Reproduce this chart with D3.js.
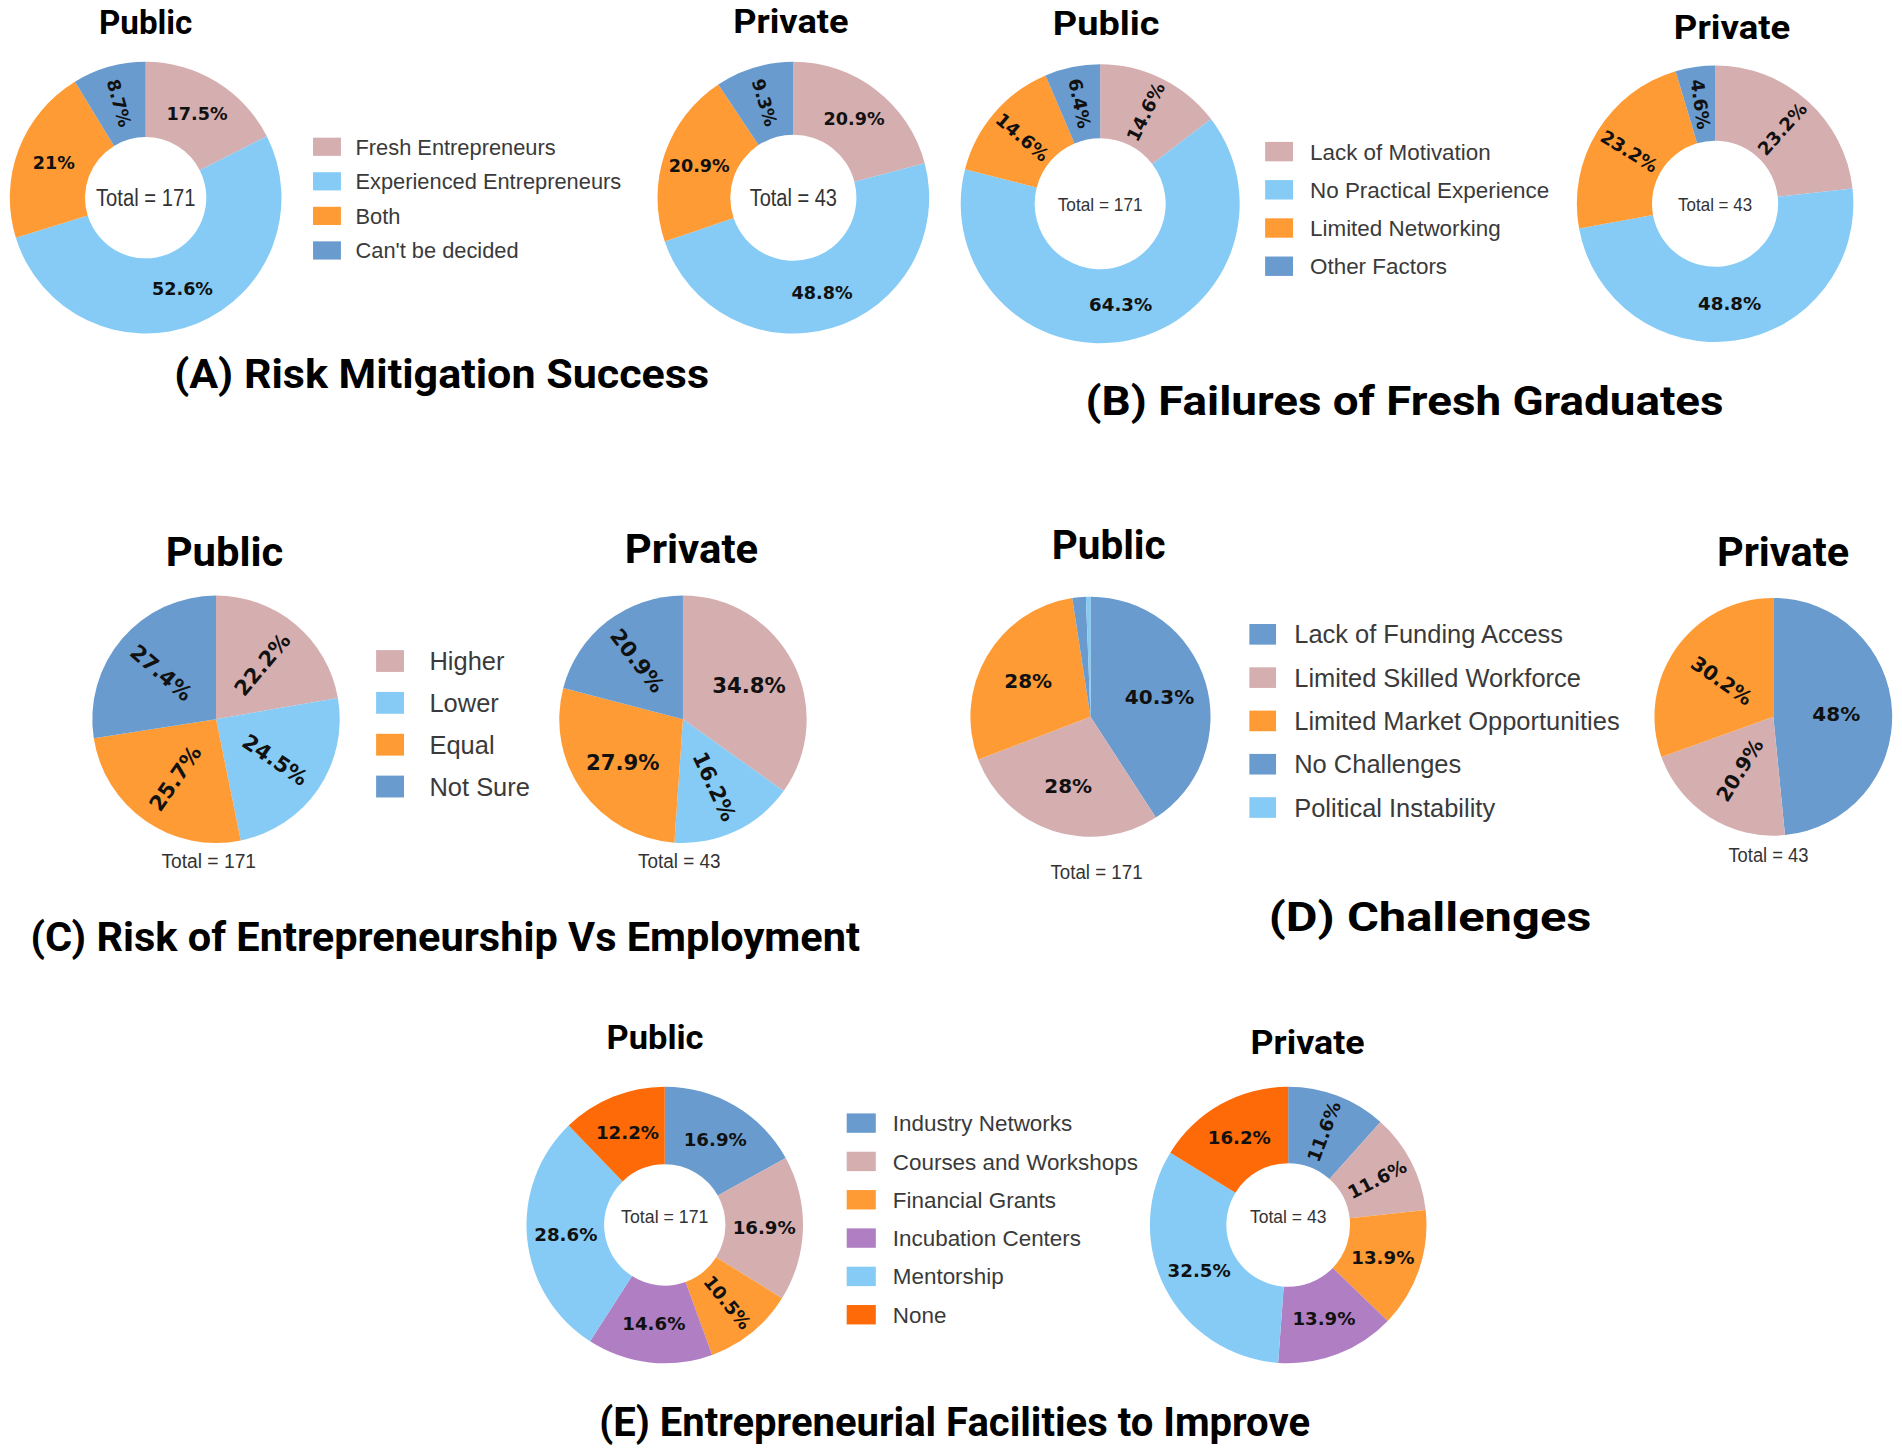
<!DOCTYPE html>
<html>
<head>
<meta charset="utf-8">
<title>Entrepreneurship survey - Public vs Private</title>
<script src="https://d3js.org/d3.v7.min.js"></script>
<style>
    body { margin: 0; background: #fff; }
    svg { display: block; }
</style>
</head>
<body>
<div id="chart"></div>
<script>
// survey answers, in percent of respondents
var groupNames = ["Public", "Private"];
var groupTotals = [171, 43];

var riskCategories = ["Fresh Entrepreneurs", "Experienced Entrepreneurs", "Both", "Can't be decided"];
var riskPublic = [17.5, 52.6, 21, 8.7];
var riskPrivate = [20.9, 48.8, 20.9, 9.3];

var failureCategories = ["Lack of Motivation", "No Practical Experience", "Limited Networking", "Other Factors"];
var failurePublic = [14.6, 64.3, 14.6, 6.4];
var failurePrivate = [23.2, 48.8, 23.2, 4.6];

var employmentCategories = ["Higher", "Lower", "Equal", "Not Sure"];
var employmentPublic = [22.2, 24.5, 25.7, 27.4];
var employmentPrivate = [34.8, 16.2, 27.9, 20.9];

var challengeCategories = ["Lack of Funding Access", "Limited Skilled Workforce", "Limited Market Opportunities", "No Challenges", "Political Instability"];
var challengePublic = [40.3, 28, 28, 1.8, 0.6];
var challengePrivate = [48, 20.9, 30.2, 0, 0];

var facilityCategories = ["Industry Networks", "Courses and Workshops", "Financial Grants", "Incubation Centers", "Mentorship", "None"];
var facilityPublic = [16.9, 16.9, 10.5, 14.6, 28.6, 12.2];
var facilityPrivate = [11.6, 11.6, 13.9, 13.9, 32.5, 16.2];

var panelTitles = ["(A) Risk Mitigation Success", "(B) Failures of Fresh Graduates",
    "(C) Risk of Entrepreneurship Vs Employment", "(D) Challenges", "(E) Entrepreneurial Facilities to Improve"];

// colours
var pink = "#D5AEB0", sky = "#85CBF5", orange = "#FE9B34", steel = "#6A9BCE", purple = "#AF7EC3", red = "#FF6A08";

// layout, in the 1568 x 1198 drawing space
var panels = [
    {
        title: panelTitles[0], tx: 364, ty: 320, tlen: 441, anchor: "middle",
        categories: riskCategories, colors: [pink, sky, orange, steel], pctSize: 14.5,
        legend: { x: 258, y: 121, dy: 28.5, w: 23, h: 15, size: 18, tx: 293 },
        charts: [
            { values: riskPublic, cx: 120, cy: 163, r: 112, ir: 50, nx: 120, ny: 28, nsize: 27, nlen: 77, rot: [3], totalY: 163, totalSize: 19, totalLen: 82 },
            { values: riskPrivate, cx: 654, cy: 163, r: 112, ir: 52, nx: 652, ny: 27, nsize: 27, nlen: 95, rot: [3], totalY: 163, totalSize: 19, totalLen: 72 }
        ]
    },
    {
        title: panelTitles[1], tx: 1158, ty: 342, tlen: 526, anchor: "middle",
        categories: failureCategories, colors: [pink, sky, orange, steel], pctSize: 15,
        legend: { x: 1043, y: 125, dy: 31.5, w: 23, h: 16, size: 18.5, tx: 1080 },
        charts: [
            { values: failurePublic, cx: 907, cy: 168, r: 115, ir: 54, nx: 912, ny: 29, nsize: 28, nlen: 88, rot: [0, 2, 3], totalY: 169, totalSize: 15, totalLen: 70 },
            { values: failurePrivate, cx: 1414, cy: 168, r: 114, ir: 52, nx: 1428, ny: 32, nsize: 28, nlen: 96, rot: [0, 2, 3], totalY: 169, totalSize: 15, totalLen: 61 }
        ]
    },
    {
        title: panelTitles[2], tx: 25, ty: 784, tlen: 684, anchor: "start",
        categories: employmentCategories, colors: [pink, sky, orange, steel], pctSize: 17.5,
        legend: { x: 310, y: 545, dy: 34.5, w: 23, h: 18, size: 21, tx: 354 },
        charts: [
            { values: employmentPublic, cx: 178, cy: 593, r: 102, ir: 0, labelR: 0.58, nx: 185, ny: 467, nsize: 33, nlen: 97, rot: [0, 1, 2, 3], totalX: 172, totalY: 716, totalSize: 16, totalLen: 78 },
            { values: employmentPrivate, cx: 563, cy: 593, r: 102, ir: 0, labelR: 0.6, nx: 570, ny: 464, nsize: 33, nlen: 110, rot: [1, 3], totalX: 560, totalY: 716, totalSize: 16, totalLen: 68 }
        ]
    },
    {
        title: panelTitles[3], tx: 1179, ty: 768, tlen: 266, anchor: "middle",
        categories: challengeCategories, colors: [steel, pink, orange, steel, sky], pctSize: 16.5,
        legend: { x: 1030, y: 523, dy: 35.7, w: 22, h: 17, size: 21, tx: 1067 },
        charts: [
            { values: challengePublic, cx: 899, cy: 591, r: 99, ir: 0, labelR: 0.6, nx: 914, ny: 461, nsize: 33, nlen: 94, rot: [], totalX: 904, totalY: 725, totalSize: 16, totalLen: 76 },
            { values: challengePrivate, cx: 1462, cy: 591, r: 98, ir: 0, labelR: 0.53, nx: 1470, ny: 467, nsize: 33, nlen: 109, rot: [1, 2], totalX: 1458, totalY: 711, totalSize: 16, totalLen: 66 }
        ]
    },
    {
        title: panelTitles[4], tx: 787, ty: 1184, tlen: 586, anchor: "middle",
        categories: facilityCategories, colors: [steel, pink, orange, purple, sky, red], pctSize: 15,
        legend: { x: 698, y: 926, dy: 31.6, w: 24, h: 16, size: 18.5, tx: 736 },
        charts: [
            { values: facilityPublic, cx: 548, cy: 1010, r: 114, ir: 50, nx: 540, ny: 865, nsize: 28, nlen: 80, rot: [2], totalY: 1003, totalSize: 15, totalLen: 72 },
            { values: facilityPrivate, cx: 1062, cy: 1010, r: 114, ir: 51, nx: 1078, ny: 869, nsize: 28, nlen: 94, rot: [0, 1], totalY: 1003, totalSize: 15, totalLen: 63 }
        ]
    }
];

var svg = d3.select("#chart").append("svg")
    .attr("width", 1902)
    .attr("height", 1453)
    .attr("viewBox", "0 0 1568 1198");

svg.append("rect").attr("width", 1568).attr("height", 1198).attr("fill", "#fff");

var pie = d3.pie().sort(null).value(function (d) { return d; });

var headFont = "Roboto, 'Open Sans', sans-serif";
var legendFont = "'Liberation Sans', Arial, sans-serif";
var totalFont = "'Liberation Sans Narrow', 'Liberation Sans', Arial, sans-serif";
var labelFont = "'DejaVu Sans', Verdana, sans-serif";

function drawChart(g, p, c, k) {
    var arcs = pie(c.values);
    var arc = d3.arc().innerRadius(c.ir).outerRadius(c.r);
    var lr = c.ir > 0 ? (c.ir + c.r) / 2 : c.r * c.labelR;
    var labelArc = d3.arc().innerRadius(lr).outerRadius(lr);

    var cg = g.append("g").attr("transform", "translate(" + c.cx + "," + c.cy + ")");
    cg.selectAll("path").data(arcs).enter()
        .append("path")
        .attr("d", arc)
        .attr("fill", function (d, i) { return p.colors[i]; });

    // slices too thin for a label stay unlabelled
    cg.selectAll("text.pct").data(arcs.filter(function (d) { return d.value >= 2; })).enter()
        .append("text")
        .attr("class", "pct")
        .attr("transform", function (d) {
            var pos = labelArc.centroid(d);
            var a = (d.startAngle + d.endAngle) / 2 * 180 / Math.PI;
            var r = 0;
            if (c.rot.indexOf(d.index) >= 0)
                r = a < 180 ? a - 90 : a - 270;
            return "translate(" + pos[0] + "," + pos[1] + ") rotate(" + r + ")";
        })
        .attr("text-anchor", "middle")
        .attr("dy", "0.36em")
        .style("font-family", labelFont)
        .style("font-weight", 700)
        .style("font-size", p.pctSize + "px")
        .style("fill", "#111")
        .text(function (d) { return d.value + "%"; });

    // group name above the chart
    g.append("text")
        .attr("x", c.nx)
        .attr("y", c.ny)
        .attr("text-anchor", "middle")
        .attr("textLength", c.nlen)
        .attr("lengthAdjust", "spacingAndGlyphs")
        .style("font-family", headFont)
        .style("font-weight", 700)
        .style("font-size", c.nsize + "px")
        .style("fill", "#000")
        .text(groupNames[k]);

    // total, inside a donut or under a pie
    var inside = c.ir > 0;
    g.append("text")
        .attr("x", inside ? c.cx : c.totalX)
        .attr("y", c.totalY)
        .attr("dy", inside ? "0.35em" : 0)
        .attr("text-anchor", "middle")
        .attr("textLength", c.totalLen)
        .attr("lengthAdjust", "spacingAndGlyphs")
        .style("font-family", totalFont)
        .style("font-size", c.totalSize + "px")
        .style("fill", "#333")
        .text("Total = " + groupTotals[k]);
}

function drawLegend(g, p) {
    var L = p.legend;
    var rows = g.selectAll("g.leg").data(p.categories).enter()
        .append("g")
        .attr("class", "leg")
        .attr("transform", function (d, i) { return "translate(0," + (L.y + i * L.dy) + ")"; });
    rows.append("rect")
        .attr("x", L.x)
        .attr("y", -L.h / 2)
        .attr("width", L.w)
        .attr("height", L.h)
        .attr("fill", function (d, i) { return p.colors[i]; });
    rows.append("text")
        .attr("x", L.tx)
        .attr("dy", "0.36em")
        .style("font-family", legendFont)
        .style("font-size", L.size + "px")
        .style("fill", "#3a3a3a")
        .text(function (d) { return d; });
}

panels.forEach(function (p) {
    var g = svg.append("g");
    p.charts.forEach(function (c, k) {
        drawChart(g, p, c, k);
    });
    drawLegend(g, p);
    g.append("text")
        .attr("x", p.tx)
        .attr("y", p.ty)
        .attr("text-anchor", p.anchor)
        .attr("textLength", p.tlen)
        .attr("lengthAdjust", "spacingAndGlyphs")
        .style("font-family", headFont)
        .style("font-weight", 700)
        .style("font-size", "33px")
        .style("fill", "#000")
        .text(p.title);
});
</script>
</body>
</html>
